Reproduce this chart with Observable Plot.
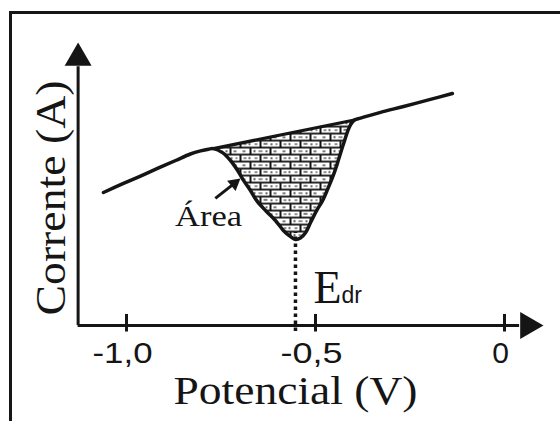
<!DOCTYPE html>
<html>
<head>
<meta charset="utf-8">
<script src="https://cdn.jsdelivr.net/npm/d3@7"></script>
<script src="https://cdn.jsdelivr.net/npm/@observablehq/plot@0.6"></script>
<style>
  html, body { margin: 0; padding: 0; background: #fff; }
  #chart { position: relative; width: 560px; height: 421px; overflow: hidden; background: #fff; }
  #frame { position: absolute; left: 8.5px; top: 11px; right: -10px; bottom: -10px;
           border-left: 3px solid #161616; border-top: 3.5px solid #161616; }
  #chart svg.plot { position: absolute; left: 0; top: 0; background: transparent; overflow: visible; }
</style>
</head>
<body>
<!-- brick fill used for the integrated peak area -->
<svg width="0" height="0" style="position:absolute">
  <defs>
    <pattern id="bricks" patternUnits="userSpaceOnUse" width="40" height="14">
      <rect width="40" height="14" fill="#121212"/>
      <rect x="1" y="1" width="18" height="5.2" fill="#fff"/>
      <rect x="21" y="1" width="18" height="5.2" fill="#fff"/>
      <rect x="0" y="8" width="9" height="5.2" fill="#fff"/>
      <rect x="11" y="8" width="18" height="5.2" fill="#fff"/>
      <rect x="31" y="8" width="9" height="5.2" fill="#fff"/>
      <g fill="#222">
        <rect x="3" y="3.2" width="3" height="1"/>
        <rect x="8" y="2.8" width="2" height="1.5"/>
        <rect x="14" y="3.2" width="3" height="1"/>
        <rect x="23" y="2.8" width="4" height="1.2"/>
        <rect x="30" y="3" width="2" height="1.4"/>
        <rect x="35" y="3.2" width="2" height="1"/>
        <rect x="2" y="10.2" width="3" height="1.2"/>
        <rect x="13" y="9.8" width="2" height="1.6"/>
        <rect x="18" y="10.2" width="4" height="1"/>
        <rect x="25" y="10" width="2" height="1.4"/>
        <rect x="33" y="10.2" width="3" height="1.2"/>
      </g>
    </pattern>
  </defs>
</svg>
<div id="chart"><div id="frame"></div></div>
<script>
// Stripping voltammogram: potential (V) vs current (arbitrary units)
// rising branch before the stripping peak
const risePotential = [-1.061, -1.008, -0.963, -0.918, -0.870, -0.831, -0.804, -0.783];
const riseCurrent   = [47.0, 50.2, 52.8, 55.5, 58.3, 60.6, 61.7, 62.3];

// stripping peak, from where it leaves the baseline to where it rejoins it
const peakPotential = [-0.770, -0.746, -0.725, -0.706, -0.690, -0.672, -0.656, -0.632, -0.606, -0.585, -0.566, -0.553,
                       -0.540, -0.526, -0.513, -0.497, -0.481, -0.468, -0.455, -0.444, -0.434, -0.423, -0.415, -0.407, -0.397];
const peakCurrent   = [62.5, 61.1, 58.3, 54.8, 51.2, 47.7, 44.2, 40.6, 37.1, 33.6, 31.4, 30.4,
                       30.9, 32.9, 36.4, 40.6, 44.2, 48.1, 52.3, 56.5, 60.8, 65.4, 68.6, 71.0, 72.6];

// branch after the peak
const tailPotential = [-0.381, -0.328, -0.267, -0.196, -0.138];
const tailCurrent   = [73.3, 75.3, 77.4, 79.9, 82.0];

// axis ticks
const xTicks = [-1, -0.5, 0];
const tickLabels = ["-1,0", "-0,5", "0"];

// axis extents (potential / current units)
const xAxisStart = -1.128, xAxisEnd = 0.04, xArrowAt = 0.062;
const yAxisEnd = 92, yArrowAt = 94.5;

// arrow pointing at the shaded area
const areaArrowFrom = [-0.765, 44.9];
const areaArrowTo = [-0.7146, 50.2];

const pts = (v, i) => v.map((d, k) => ({v: d, i: i[k]}));
const rise = pts(risePotential, riseCurrent);
const peak = pts(peakPotential, peakCurrent);
const tail = pts(tailPotential, tailCurrent);
const curve = [...rise, ...peak, ...tail];
const baseline = [peak[0], peak[peak.length - 1]];
const peakMin = peak[d3.minIndex(peakCurrent)];

const ink = "#151515";
const serif = "'Liberation Serif', 'Times New Roman', Times, serif";
const sans = "'Liberation Sans', Arial, Helvetica, sans-serif";

const chart = Plot.plot({
  width: 560,
  height: 421,
  marginTop: 0, marginRight: 0, marginBottom: 0, marginLeft: 0,
  x: {domain: [-1, 0], range: [126, 504], axis: null},
  y: {domain: [0, 100], range: [325, 42], axis: null},
  style: {background: "transparent", color: ink},
  marks: [
    // shaded peak area
    Plot.line(peak, {x: "v", y: "i", fill: "url(#bricks)", stroke: "none", curve: "catmull-rom"}),
    // baseline under the peak
    Plot.line(baseline, {x: "v", y: "i", stroke: ink, strokeWidth: 3.2}),
    // voltammogram
    Plot.line(curve, {x: "v", y: "i", stroke: ink, strokeWidth: 3.5, curve: "catmull-rom"}),
    // E_dr marker
    Plot.ruleX([peakMin], {x: "v", y1: () => 0, y2: "i", stroke: ink, strokeWidth: 3.5,
      strokeDasharray: "3.5,3.5", insetTop: 6, insetBottom: 7}),
    // axes with arrowheads
    Plot.ruleY([0], {x1: () => xAxisStart, x2: () => xAxisEnd, stroke: ink, strokeWidth: 3}),
    Plot.ruleX([xAxisStart], {y1: () => 0, y2: () => yAxisEnd, stroke: ink, strokeWidth: 3, insetBottom: -1.5}),
    Plot.dot([[xArrowAt, 0]], {x: d => d[0], y: d => d[1], symbol: "triangle", r: 10, fill: ink, stroke: "none", rotate: 90}),
    Plot.dot([[xAxisStart, yArrowAt]], {x: d => d[0], y: d => d[1], symbol: "triangle", r: 10, fill: ink, stroke: "none"}),
    Plot.ruleX(xTicks, {y1: () => -2.3, y2: () => 3.9, stroke: ink, strokeWidth: 3}),
    Plot.text(xTicks, {x: d => d, y: () => -13.1, text: (d, k) => tickLabels[k], fontSize: 30,
      fontFamily: sans, textAnchor: "middle", lineAnchor: "bottom", dx: -4, fill: ink}),
    // axis titles
    Plot.text(["Potencial (V)"], {x: () => -0.553, y: () => -27.6, text: d => d, fontSize: 39,
      fontFamily: serif, textAnchor: "middle", lineAnchor: "bottom", fill: ink}),
    Plot.text(["Corrente (A)"], {x: () => -1.164, y: () => 45.05, text: d => d, fontSize: 43,
      fontFamily: serif, textAnchor: "middle", lineAnchor: "bottom", rotate: -90, fill: ink}),
    // annotations
    Plot.text(["Área"], {x: () => -0.783, y: () => 35.0, text: d => d, fontSize: 29,
      fontFamily: serif, textAnchor: "middle", lineAnchor: "bottom", fill: ink}),
    Plot.link([0], {x1: () => areaArrowFrom[0], y1: () => areaArrowFrom[1], x2: () => areaArrowTo[0], y2: () => areaArrowTo[1],
      stroke: ink, strokeWidth: 3}),
    Plot.dot([areaArrowTo], {x: d => d[0], y: d => d[1], symbol: "triangle", r: 5, fill: ink, stroke: "none", rotate: 51}),
    Plot.text(["E"], {x: () => -0.505, y: () => 8.1, text: d => d, fontSize: 46,
      fontFamily: serif, textAnchor: "start", lineAnchor: "bottom", fill: ink}),
    Plot.text(["dr"], {x: () => -0.431, y: () => 8.1, text: d => d, fontSize: 23,
      fontFamily: sans, textAnchor: "start", lineAnchor: "bottom", fill: ink})
  ]
});

// widen the titles and labels to their set lengths
const textLengths = {"Potencial (V)": 244, "Corrente (A)": 235, "Área": 67, "-1,0": 60, "-0,5": 62};
chart.querySelectorAll("text").forEach(t => {
  const w = textLengths[t.textContent];
  if (w) {
    t.setAttribute("textLength", w);
    t.setAttribute("lengthAdjust", "spacingAndGlyphs");
  }
});

document.getElementById("chart").appendChild(chart);
</script>
</body>
</html>
